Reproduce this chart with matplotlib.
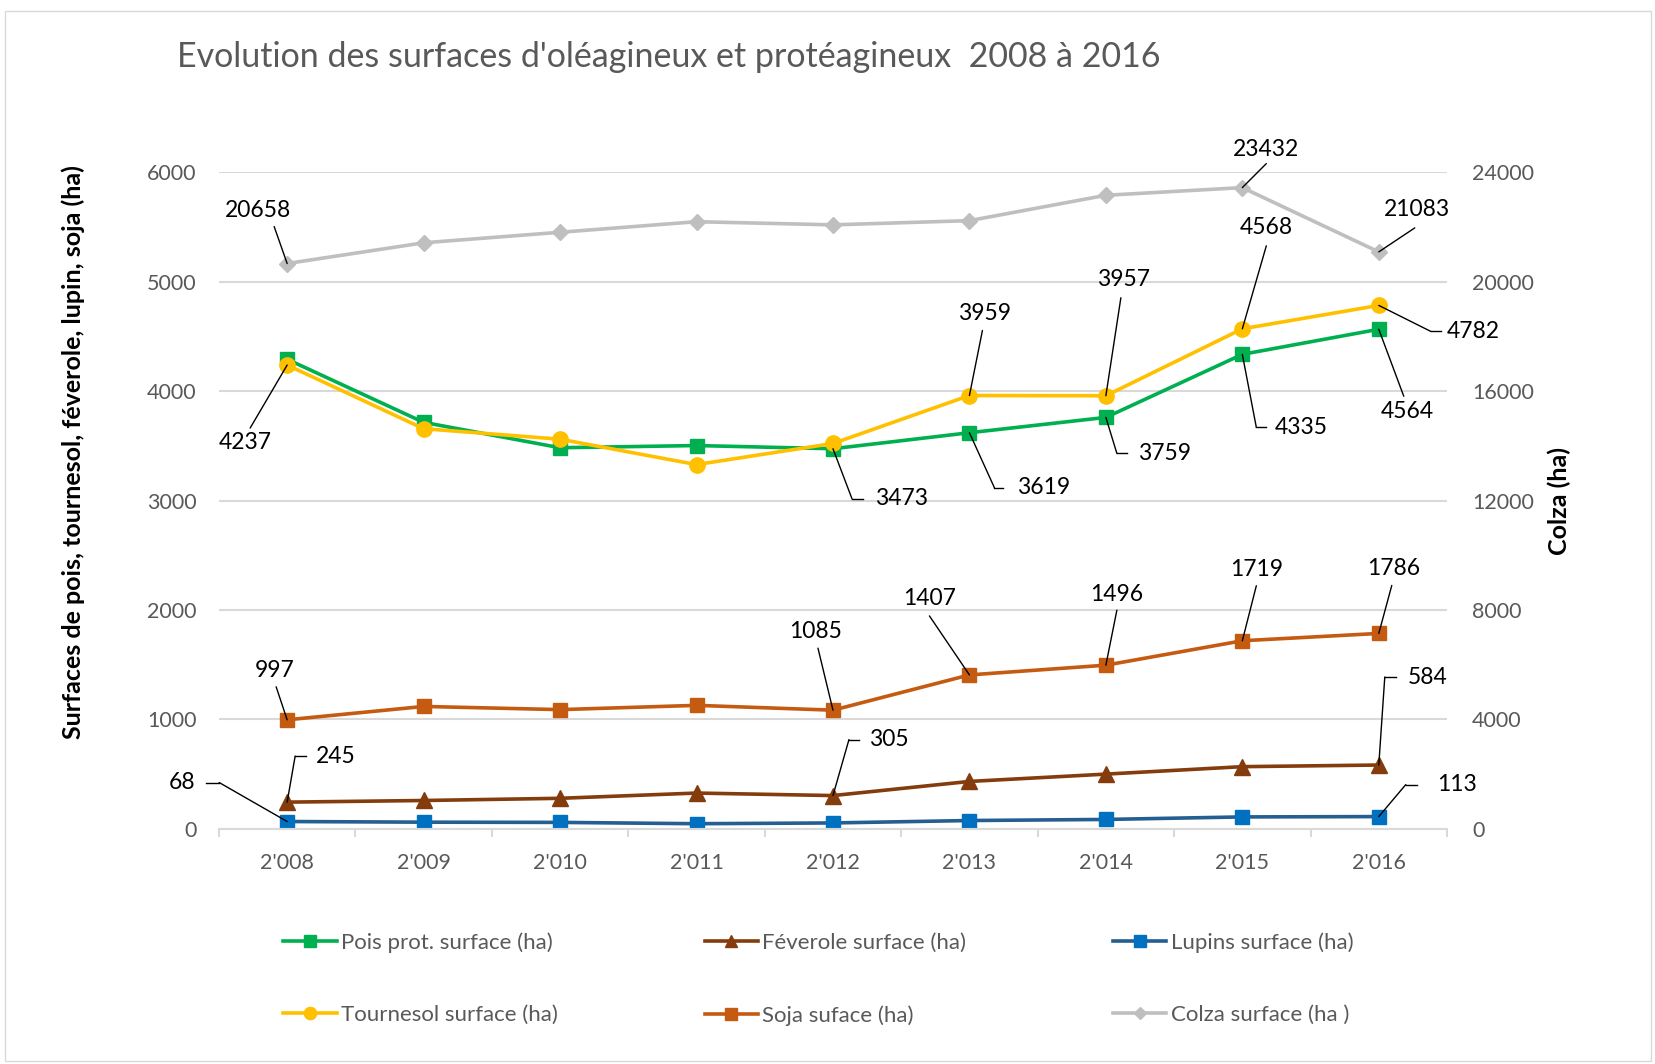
import numpy as np
import matplotlib
matplotlib.use("Agg")
import matplotlib.pyplot as plt
from matplotlib.patches import Rectangle

plt.rcParams['font.family'] = ['Lato', 'DejaVu Sans']

# data
annees      = ["2'008", "2'009", "2'010", "2'011", "2'012", "2'013", "2'014", "2'015", "2'016"]
pois        = [4290, 3714, 3482, 3502, 3473, 3619, 3759, 4335, 4564]
tournesol   = [4237, 3656, 3560, 3328, 3521, 3959, 3957, 4568, 4782]
feverole    = [245, 260, 280, 328, 305, 434, 501, 569, 584]
soja        = [997, 1119, 1090, 1129, 1085, 1407, 1496, 1719, 1786]
lupins      = [68, 62, 60, 48, 55, 77, 87, 110, 113]
colza       = [20658, 21415, 21800, 22186, 22071, 22225, 23151, 23432, 21083]

# etiquettes : index, position du texte, coude, fin d'epaule (pixels)
lab_pois    = [(4, (69, -50), (19, -50), (30, -50)),
               (5, (74, -55), (25, -55), (34, -55)),
               (6, (59, -36), (11, -36), (21, -36)),
               (7, (59, -73), (14, -73), (24, -73)),
               (8, (29, -82), (25, -67), None)]
lab_tourn   = [(0, (-42, -77), (-37, -63), None),
               (5, (15, 82), (13, 65), None),
               (6, (18, 116), (15, 98), None),
               (7, (24, 101), (24, 83), None),
               (8, (94, -26), (52, -26), (62, -26))]
lab_fev     = [(0, (49, 46), (8, 46), (19, 46)),
               (4, (56, 56), (16, 56), (26, 56)),
               (8, (49, 88), (6, 88), (17, 88))]
lab_soja    = [(0, (-13, 49), (-11, 33), None),
               (4, (-17, 79), (-15, 62), None),
               (5, (-40, 76), (-40, 59), None),
               (6, (11, 71), (11, 55), None),
               (7, (14, 71), (14, 55), None),
               (8, (15, 65), (13, 48), None)]
lab_lup     = [(0, (-105, 39), (-68, 39), (-81, 39)),
               (8, (78, 32), (27, 32), (38, 32))]
lab_colza   = [(0, (-29, 53), (-13, 37), None),
               (7, (24, 38), (24, 24), None),
               (8, (38, 42), (36, 24), None)]

x = np.arange(len(annees))

fig = plt.figure(figsize=(16.56, 10.64), dpi=100)
fig.patches.append(Rectangle((0.003, 0.003), 0.994, 0.987, transform=fig.transFigure,
                             fill=False, edgecolor='#D9D9D9', lw=1))
ax = fig.add_axes([0.1322, 0.2209, 0.7416, 0.6174])
ax2 = ax.twinx()

lw = 2.6
l1, = ax.plot(x, pois, color='#00B050', lw=lw, marker='s', ms=10, label='Pois prot. surface (ha)')
l2, = ax.plot(x, tournesol, color='#FFC000', lw=lw, marker='o', ms=11, label='Tournesol surface (ha)')
l3, = ax.plot(x, feverole, color='#843C0C', lw=lw, marker='^', ms=11, label='Féverole surface (ha)')
l4, = ax.plot(x, soja, color='#C55A11', lw=lw, marker='s', ms=10, label='Soja suface (ha)')
l5, = ax.plot(x, lupins, color='#255E91', lw=lw, marker='s', ms=10, mfc='#0070C0', mec='#0070C0',
              label='Lupins surface (ha)')
l6, = ax2.plot(x, colza, color='#BFBFBF', lw=lw, marker='D', ms=8, label='Colza surface (ha )')


def epaules(a, vals, labs):
    # petit trait horizontal entre le coude et le texte
    for i, tpos, elbow, sh in labs:
        if sh is None:
            continue
        trans = a.transData
        px, py = trans.transform((x[i], vals[i]))
        inv = trans.inverted()
        p1 = inv.transform((px + elbow[0], py + elbow[1]))
        p2 = inv.transform((px + sh[0], py + sh[1]))
        a.plot([p1[0], p2[0]], [p1[1], p2[1]], color='black', lw=1, clip_on=False)


ax.set_xlim(-0.5, 8.5)
ax.set_ylim(0, 6000)
ax2.set_ylim(0, 24000)
ax.set_yticks(range(0, 6001, 1000))
ax2.set_yticks(range(0, 24001, 4000))
ax.set_xticks(x)
ax.set_xticklabels(annees)
ax.set_xticks(np.arange(-0.5, 9, 1), minor=True)
fig.canvas.draw()

for a, vals, labs in [(ax, pois, lab_pois), (ax, tournesol, lab_tourn), (ax, feverole, lab_fev),
                      (ax, soja, lab_soja), (ax, lupins, lab_lup), (ax2, colza, lab_colza)]:
    for i, tpos, elbow, sh in labs:
        pt = (x[i], vals[i])
        a.annotate('', xy=pt, xytext=elbow, textcoords='offset pixels',
                   arrowprops=dict(arrowstyle='-', color='black', lw=1, shrinkA=0, shrinkB=0),
                   annotation_clip=False)
        a.annotate(str(vals[i]), xy=pt, xytext=tpos, textcoords='offset pixels',
                   ha='center', va='center', fontsize=16.5, color='black', annotation_clip=False)
    epaules(a, vals, labs)

for a in (ax, ax2):
    for s in a.spines.values():
        s.set_visible(False)
ax.spines['bottom'].set_visible(True)
ax.spines['bottom'].set_color('#D9D9D9')
ax.spines['bottom'].set_linewidth(1.5)
ax.grid(axis='y', color='#D9D9D9', lw=1.5)
ax.set_axisbelow(True)
ax.tick_params(axis='x', which='major', length=0, pad=17, labelsize=15.5, labelcolor='#595959')
ax.tick_params(axis='x', which='minor', length=6, width=1.5, color='#D9D9D9')
ax.tick_params(axis='y', length=0, pad=16, labelsize=15.5, labelcolor='#595959')
ax2.tick_params(axis='y', length=0, pad=18, labelsize=15.5, labelcolor='#595959')

ax.set_ylabel('Surfaces de pois, tournesol, féverole, lupin, soja (ha)', fontsize=18,
              fontweight='bold', labelpad=45)
ax.yaxis.label.set_y(0.573)
ax2.set_ylabel('Colza (ha)', fontsize=18, fontweight='bold', labelpad=10)

fig.text(0.107, 0.946, "Evolution des surfaces d'oléagineux et protéagineux  2008 à 2016",
         fontsize=24.5, color='#595959', ha='left', va='center')

fig.legend(handles=[l1, l2, l3, l4, l5, l6], ncol=3, loc='center left',
           bbox_to_anchor=(0.159, 0.080), frameon=False, fontsize=16,
           labelcolor='#595959', handlelength=2.4, handletextpad=0.2,
           columnspacing=6.6, labelspacing=2.35, markerscale=0.8)

fig.savefig('out.png', dpi=100)
